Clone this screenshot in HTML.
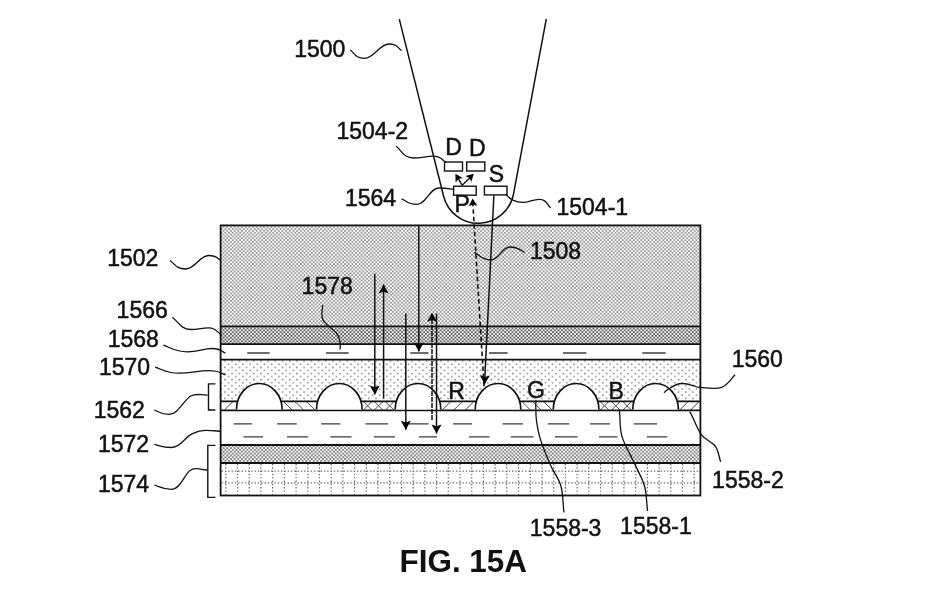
<!DOCTYPE html>
<html><head><meta charset="utf-8"><style>html,body{margin:0;padding:0;background:#fff;}svg{display:block;will-change:transform;}</style></head>
<body><svg width="927" height="607" viewBox="0 0 927 607"><defs><pattern id="p1502" width="3.680" height="3.680" patternUnits="userSpaceOnUse"><rect width="3.680" height="3.680" fill="#ffffff"/><rect x="0" y="0" width="1.840" height="1.840" fill="#9c9c9c"/><rect x="1.840" y="1.840" width="1.840" height="1.840" fill="#9c9c9c"/></pattern><pattern id="p1566" width="3.680" height="3.680" patternUnits="userSpaceOnUse"><rect width="3.680" height="3.680" fill="#f2f2f2"/><rect x="0" y="0" width="1.840" height="1.840" fill="#666666"/><rect x="1.840" y="1.840" width="1.840" height="1.840" fill="#666666"/></pattern><pattern id="p1574" width="3.680" height="3.680" patternUnits="userSpaceOnUse"><rect width="3.680" height="3.680" fill="#fafafa"/><rect x="0" y="0" width="1.840" height="1.840" fill="#858585"/><rect x="1.840" y="1.840" width="1.840" height="1.840" fill="#858585"/></pattern><pattern id="p1570" width="7.2" height="6.2" patternUnits="userSpaceOnUse">
<rect width="7.2" height="6.2" fill="#fff"/>
<rect x="1" y="0.8" width="1.4" height="1.4" fill="#6e6e6e"/><rect x="4.6" y="3.9" width="1.4" height="1.4" fill="#808080"/></pattern></defs><rect x="0" y="0" width="927" height="607" fill="#fff"/>
<rect x="220.6" y="225.4" width="479.8" height="101.0" fill="url(#p1502)"/>
<rect x="220.6" y="326.4" width="479.8" height="17.8" fill="url(#p1566)"/>
<rect x="220.6" y="359.6" width="479.8" height="41.8" fill="url(#p1570)"/>
<rect x="220.6" y="445.0" width="479.8" height="18.0" fill="url(#p1574)"/>
<path d="M225.8,464.0V494.5M237.5,464.0V494.5M249.2,464.0V494.5M260.9,464.0V494.5M272.6,464.0V494.5M284.4,464.0V494.5M296.1,464.0V494.5M307.8,464.0V494.5M319.5,464.0V494.5M331.2,464.0V494.5M342.9,464.0V494.5M354.6,464.0V494.5M366.3,464.0V494.5M378.0,464.0V494.5M389.7,464.0V494.5M401.5,464.0V494.5M413.2,464.0V494.5M424.9,464.0V494.5M436.6,464.0V494.5M448.3,464.0V494.5M460.0,464.0V494.5M471.7,464.0V494.5M483.4,464.0V494.5M495.1,464.0V494.5M506.8,464.0V494.5M518.5,464.0V494.5M530.3,464.0V494.5M542.0,464.0V494.5M553.7,464.0V494.5M565.4,464.0V494.5M577.1,464.0V494.5M588.8,464.0V494.5M600.5,464.0V494.5M612.2,464.0V494.5M623.9,464.0V494.5M635.7,464.0V494.5M647.4,464.0V494.5M659.1,464.0V494.5M670.8,464.0V494.5M682.5,464.0V494.5M694.2,464.0V494.5M221.6,471.2H699.4M221.6,482.8H699.4" stroke="#6a6a6a" stroke-width="1.2" stroke-dasharray="1.4 1.9" fill="none"/>
<clipPath id="bmclip"><rect x="220.6" y="401.4" width="479.8" height="8.9"/></clipPath>
<path d="M224.1,410.3L233.1,401.4M283.3,401.4L292.3,410.3M294.8,401.4L303.8,410.3M306.3,401.4L315.3,410.3M363.1,410.3L372.1,401.4M363.1,401.4L372.1,410.3M374.1,410.3L383.1,401.4M374.1,401.4L383.1,410.3M385.2,410.3L394.2,401.4M385.2,401.4L394.2,410.3M442.0,410.3L451.0,401.4M453.5,410.3L462.5,401.4M465.0,410.3L474.0,401.4M521.7,401.4L530.7,410.3M532.5,401.4L541.5,410.3M543.4,401.4L552.4,410.3M600.0,410.3L609.0,401.4M600.0,401.4L609.0,410.3M611.3,410.3L620.3,401.4M611.3,401.4L620.3,410.3M622.6,410.3L631.6,401.4M622.6,401.4L631.6,410.3M679.4,410.3L688.4,401.4M690.4,410.3L699.4,401.4" stroke="#4a4a4a" stroke-width="1.0" fill="none" clip-path="url(#bmclip)"/>
<path d="M236.5,410.3 C236.5,395.5 246.7,383.5 259.3,383.5 C271.9,383.5 282.1,395.5 282.1,410.3 Z" fill="#fff" stroke="none"/>
<path d="M316.5,410.3 C316.5,395.5 326.7,383.5 339.3,383.5 C351.9,383.5 362.1,395.5 362.1,410.3 Z" fill="#fff" stroke="none"/>
<path d="M395.2,410.3 C395.2,395.5 405.4,383.5 418.0,383.5 C430.6,383.5 440.8,395.5 440.8,410.3 Z" fill="#fff" stroke="none"/>
<path d="M475.2,410.3 C475.2,395.5 485.4,383.5 498.0,383.5 C510.6,383.5 520.8,395.5 520.8,410.3 Z" fill="#fff" stroke="none"/>
<path d="M553.3,410.3 C553.3,395.5 563.5,383.5 576.1,383.5 C588.7,383.5 598.9,395.5 598.9,410.3 Z" fill="#fff" stroke="none"/>
<path d="M632.8,410.3 C632.8,395.5 643.0,383.5 655.6,383.5 C668.2,383.5 678.4,395.5 678.4,410.3 Z" fill="#fff" stroke="none"/>
<path d="M220.6,326.4H700.4M220.6,344.2H700.4M220.6,359.6H700.4M220.6,401.4H700.4M220.6,410.3H700.4M220.6,445.0H700.4M220.6,463.0H700.4" stroke="#111" stroke-width="1.8" fill="none"/>
<rect x="220.6" y="225.4" width="479.8" height="270.1" fill="none" stroke="#111" stroke-width="1.8"/>
<path d="M236.5,409.5 C236.5,395.1 246.7,383.5 259.3,383.5 C271.9,383.5 282.1,395.1 282.1,409.5" fill="#fff" stroke="#111" stroke-width="1.7"/>
<path d="M316.5,409.5 C316.5,395.1 326.7,383.5 339.3,383.5 C351.9,383.5 362.1,395.1 362.1,409.5" fill="#fff" stroke="#111" stroke-width="1.7"/>
<path d="M395.2,409.5 C395.2,395.1 405.4,383.5 418.0,383.5 C430.6,383.5 440.8,395.1 440.8,409.5" fill="#fff" stroke="#111" stroke-width="1.7"/>
<path d="M475.2,409.5 C475.2,395.1 485.4,383.5 498.0,383.5 C510.6,383.5 520.8,395.1 520.8,409.5" fill="#fff" stroke="#111" stroke-width="1.7"/>
<path d="M553.3,409.5 C553.3,395.1 563.5,383.5 576.1,383.5 C588.7,383.5 598.9,395.1 598.9,409.5" fill="#fff" stroke="#111" stroke-width="1.7"/>
<path d="M632.8,409.5 C632.8,395.1 643.0,383.5 655.6,383.5 C668.2,383.5 678.4,395.1 678.4,409.5" fill="#fff" stroke="#111" stroke-width="1.7"/>
<path d="M247.2,353H269.7M326.1,353H348.7M410.3,353H428.4M489.0,353H507.6M563.0,353H586.3M642.3,353H665.6M233.7,423.8H251.9M277.1,423.8H296.8M321.2,423.8H340.3M365.5,423.8H388.0M409.0,423.8H428.6M453.1,423.8H472.0M502.6,423.8H523.0M547.8,423.8H569.3M590.0,423.8H610.0M633.8,423.8H657.0M243.5,436.8H263.1M287.0,436.8H308.0M330.4,436.8H351.5M373.9,436.8H395.0M418.8,436.8H437.0M469.1,436.8H489.5M510.7,436.8H533.4M555.0,436.8H577.6M599.0,436.8H617.5M646.9,436.8H667.2" stroke="#3a3a3a" stroke-width="1.35" fill="none"/>
<path d="M374.8,273.8L374.8,394.4" stroke="#111" stroke-width="1.5"/>
<path d="M374.8,394.4 L369.8,385.4 L374.8,387.2 L379.8,385.4 Z" fill="#000"/>
<path d="M383.6,398.5L383.6,284.4" stroke="#111" stroke-width="1.5"/>
<path d="M383.6,284.4 L388.6,293.4 L383.6,291.6 L378.6,293.4 Z" fill="#000"/>
<path d="M405.8,313.4L405.8,429.8" stroke="#111" stroke-width="1.5"/>
<path d="M405.8,429.8 L400.8,420.8 L405.8,422.6 L410.8,420.8 Z" fill="#000"/>
<path d="M418.8,225.5L418.8,351.5" stroke="#111" stroke-width="1.5"/>
<path d="M418.8,351.5 L413.8,342.5 L418.8,344.3 L423.8,342.5 Z" fill="#000"/>
<path d="M436.5,313.6L436.5,433.5" stroke="#111" stroke-width="1.5"/>
<path d="M436.5,433.5 L431.5,424.5 L436.5,426.3 L441.5,424.5 Z" fill="#000"/>
<path d="M432,420L432,314" stroke="#111" stroke-width="1.5" stroke-dasharray="5 1"/>
<path d="M432.0,312.7 L437.0,321.7 L432.0,319.9 L427.0,321.7 Z" fill="#000"/>
<path d="M493.9,195.3L484.5,384.3" stroke="#111" stroke-width="1.5"/>
<path d="M484.5,384.3 L480.0,375.1 L484.9,377.1 L489.9,375.6 Z" fill="#000"/>
<path d="M484,386L472.8,203" stroke="#111" stroke-width="1.6" stroke-dasharray="4.5 3"/>
<path d="M472.6,198.5 L477.4,205.8 L473.0,204.6 L468.8,206.3 Z" fill="#000"/>
<path d="M399.3,19.1 L443.6,196.2 A35.8,35.8 0 0 0 513.5,194.1 L546.3,18.9" fill="none" stroke="#111" stroke-width="1.5"/>
<rect x="444.5" y="162.0" width="18.0" height="9.0" fill="#fff" stroke="#111" stroke-width="1.4"/>
<rect x="466.7" y="162.0" width="18.1" height="9.0" fill="#fff" stroke="#111" stroke-width="1.4"/>
<rect x="453.6" y="186.2" width="22.6" height="9.0" fill="#fff" stroke="#111" stroke-width="1.4"/>
<rect x="484.4" y="186.2" width="22.6" height="8.7" fill="#fff" stroke="#111" stroke-width="1.4"/>
<path d="M462.2,185.3L457,176.4M462.2,185.3L472.3,175.5" stroke="#111" stroke-width="1.4"/>
<path d="M455.4,173.8 L462.8,178.1 L458.5,179.0 L455.6,182.4 Z" fill="#000"/>
<path d="M473.7,173.8 L471.4,182.1 L469.5,178.0 L465.4,176.1 Z" fill="#000"/>
<path d="M350.2,50.0 C355.0,53.3 355.0,58.3 364.6,58.3 C374.2,58.3 379.6,44.0 388.8,44.0 C398.1,44.0 397.3,47.9 401.6,50.5M396.2,146.3 C401.9,151.0 404.1,158.0 413.4,158.0 C422.7,158.0 425.1,156.2 433.3,156.2 C441.5,156.2 441.8,160.0 446.0,162.6M401.6,198.8 C406.7,201.0 407.7,204.3 417.0,204.3 C426.3,204.3 429.6,188.0 438.8,188.0 C448.0,188.0 448.7,188.8 453.6,189.4M506.0,194.4 C508.0,196.5 509.2,198.3 512.0,199.6 C514.8,200.9 515.9,202.4 522.7,202.4 C529.5,202.4 532.3,199.3 539.3,199.3 C546.3,199.3 546.8,204.5 550.6,208.0M474.4,252.4 C479.8,255.4 481.7,259.9 490.6,259.9 C499.5,259.9 501.5,247.0 510.0,247.0 C518.5,247.0 519.8,250.2 524.7,252.4M169.9,260.5 C175.1,263.9 175.8,269.0 185.5,269.0 C195.2,269.0 199.7,255.5 208.6,255.5 C217.5,255.5 216.9,258.5 221.0,260.5M172.4,317.2 C178.4,322.1 181.4,329.5 190.5,329.5 C199.6,329.5 200.8,327.9 208.6,327.9 C216.4,327.9 217.4,332.3 221.8,335.3M163.3,345.2 C171.3,347.8 175.0,351.8 187.2,351.8 C199.3,351.8 202.3,348.5 211.9,348.5 C221.5,348.5 220.9,351.3 225.4,353.1M155.1,367.1 C163.1,369.5 165.6,373.2 179.0,373.2 C192.4,373.2 197.0,370.7 208.6,370.7 C220.2,370.7 219.8,373.2 225.4,374.8M154.3,410.0 C159.3,411.7 160.2,414.3 169.3,414.3 C178.4,414.3 184.3,399.2 190.7,396.0 C197.1,392.8 201.9,395.4 207.5,395.0M154.3,444.3 C160.0,445.6 162.3,447.5 171.4,447.5 C180.5,447.5 185.0,437.5 190.7,434.6 C196.4,431.8 198.2,430.4 205.7,430.4 C213.2,430.4 215.7,431.0 220.7,431.4M154.3,485.0 C160.0,486.7 162.3,489.3 171.4,489.3 C180.5,489.3 184.8,473.2 190.7,470.0 C196.6,466.8 201.6,470.0 207.0,470.0M322.6,304.9 C322.7,309.9 320.5,315.0 322.9,319.8 C325.3,324.6 334.1,330.0 337.0,333.9 C339.9,337.8 339.6,340.6 340.1,343.2 C340.6,345.8 340.1,347.4 340.1,349.5M664.0,392.8 C665.6,391.2 665.9,390.4 668.9,388.9 C671.9,387.3 675.8,383.5 681.7,383.5 C687.6,383.5 689.6,384.8 692.6,385.4 C695.6,386.0 694.7,387.1 699.5,387.4 C704.3,387.7 715.7,389.5 721.6,387.4 C727.5,385.3 730.5,379.8 735.0,374.8M689.7,411.6 C694.3,419.3 697.0,428.9 701.3,434.7 C705.6,440.5 712.3,441.8 715.5,446.3 C718.7,450.8 718.6,456.6 720.7,461.8M536.0,400.2 C535.9,403.3 535.8,400.7 535.8,409.6 C535.8,418.5 537.0,426.7 539.4,435.8 C541.8,444.9 546.6,456.1 550.2,464.5 C553.8,472.9 558.6,478.0 560.9,486.0 C563.2,494.0 562.8,503.5 564.0,512.3M619.4,410.0 C620.4,418.6 619.4,427.1 621.8,435.8 C624.2,444.5 630.0,453.7 633.8,462.1 C637.6,470.5 642.2,477.9 644.5,486.0 C646.8,494.1 646.4,502.7 647.6,511.0" fill="none" stroke="#111" stroke-width="1.3"/>
<path d="M215.4,383.9H208.5V410H215.4M215.4,445.4H207.8V497.4H215.4" fill="none" stroke="#111" stroke-width="1.4"/>
<g font-family="Liberation Sans, sans-serif" font-size="23" fill="#111" stroke="#111" stroke-width="0.5"><text x="294.2" y="56.9">1500</text><text x="336.5" y="138.8">1504-2</text><text x="345.0" y="205.5">1564</text><text x="556.5" y="215.3">1504-1</text><text x="529.9" y="259.1">1508</text><text x="107.2" y="265.7">1502</text><text x="301.6" y="294.2">1578</text><text x="116.6" y="318.1">1566</text><text x="107.7" y="347.1">1568</text><text x="99.0" y="374.6">1570</text><text x="731.7" y="367.0">1560</text><text x="93.7" y="417.9">1562</text><text x="97.9" y="451.6">1572</text><text x="97.9" y="491.7">1574</text><text x="712.1" y="488.0">1558-2</text><text x="529.8" y="535.5">1558-3</text><text x="620.1" y="534.1">1558-1</text><text x="445.3" y="155.2">D</text><text x="468.9" y="155.9">D</text><text x="488.8" y="181.9">S</text><text x="454.6" y="212.4">P</text><text x="448.3" y="399.1">R</text><text x="526.9" y="398.4">G</text><text x="608.5" y="398.6">B</text></g>
<text x="399.6" y="572.0" font-family="Liberation Sans, sans-serif" font-weight="bold" font-size="31.4" fill="#111">FIG. 15A</text></svg></body></html>
